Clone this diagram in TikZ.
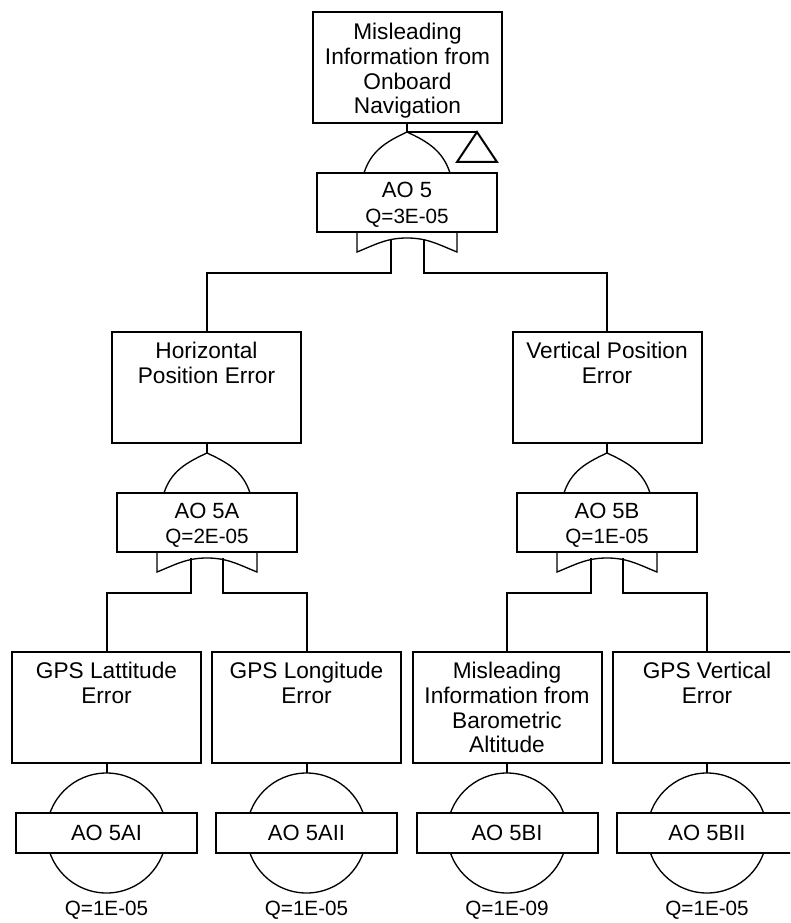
\documentclass[tikz,border=0pt]{standalone}
\usepackage{fontspec}
\setmainfont{Liberation Sans}
\begin{document}
\begin{tikzpicture}[x=0.75pt,y=-0.75pt,
  evbox/.style={draw, line width=1.5pt, minimum width=189*0.75pt, minimum height=111*0.75pt, inner sep=0pt},
  lblbox/.style={draw, fill=white, line width=1.5pt, minimum width=180*0.75pt, minimum height=59*0.75pt, inner sep=0pt, align=center},
  baselbl/.style={draw, fill=white, line width=1.5pt, minimum width=181*0.75pt, minimum height=40*0.75pt, inner sep=0pt},
  evtext/.style={anchor=north, align=center, inner sep=0pt, font=\fontsize{17}{18.5}\selectfont},
  gtext/.style={inner sep=0pt, font=\fontsize{16.5}{18}\selectfont},
  qtext/.style={inner sep=0pt, font=\fontsize{15.5}{18}\selectfont},
  gateline/.style={line width=1pt},
  wire/.style={line width=1.5pt}]
\useasboundingbox (0,0) rectangle (790,923);
\clip (0,0) rectangle (790,923);

% ---------- top event ----------
\node[evbox] (top) at (407.5,67.5) {};
\node[evtext, yshift=-12*0.75pt] (toptxt) at (top.north) {Misleading\\Information from\\Onboard\\Navigation};
\coordinate (g0tip) at (407,132);
\draw[wire] (top.south -| g0tip) -- (g0tip);
% transfer triangle
\coordinate (tr) at (477,132);
\draw[wire] (g0tip) -- (tr);
\draw[wire] (tr) -- (457,162) -- (497,162) -- cycle;
% OR gate
\draw[gateline] (364,173) to[out=72,in=205] (g0tip) to[out=-25,in=108] (450,173);
\draw[gateline] (357,232) -- (357,252) to[out=22,in=180] (407,238) to[out=0,in=158] (457,252) -- (457,232);
\node[lblbox] (g0) at (407,202.5) {};
\node[gtext] (g0a) at (407,190) {AO 5};
\node[qtext] (g0b) at (407,218) {Q=3E-05};

% ---------- second level ----------
\node[evbox] (hpe) at (206.5,387.5) {};
\node[evtext, yshift=-11*0.75pt] (hpetxt) at (hpe.north) {Horizontal\\Position Error};
\node[evbox] (vpe) at (607,387.5) {};
\node[evtext, yshift=-11*0.75pt] (vpetxt) at (vpe.north) {Vertical Position\\Error};

\coordinate (b0l) at (391,273);
\coordinate (b0r) at (424,273);
\draw[wire] (391,239) -- (b0l) -| (hpe.north);
\draw[wire] (424,239) -- (b0r) -| (vpe.north);

% gate A
\coordinate (gatip) at (207,453);
\draw[wire] (hpe.south -| gatip) -- (gatip);
\draw[gateline] (164,493) to[out=72,in=205] (gatip) to[out=-25,in=108] (250,493);
\draw[gateline] (157,552) -- (157,572) to[out=22,in=180] (207,558) to[out=0,in=158] (257,572) -- (257,552);
\node[lblbox] (ga) at (207,522.5) {};
\node[gtext] (gaa) at (207,511) {AO 5A};
\node[qtext] (gab) at (207,538) {Q=2E-05};

% gate B
\coordinate (gbtip) at (607,453);
\draw[wire] (vpe.south -| gbtip) -- (gbtip);
\draw[gateline] (564,493) to[out=72,in=205] (gbtip) to[out=-25,in=108] (650,493);
\draw[gateline] (557,552) -- (557,572) to[out=22,in=180] (607,558) to[out=0,in=158] (657,572) -- (657,552);
\node[lblbox] (gb) at (607,522.5) {};
\node[gtext] (gba) at (607,511) {AO 5B};
\node[qtext] (gbb) at (607,538) {Q=1E-05};

% ---------- basic events ----------
\node[evbox] (e1) at (106.5,707.5) {};
\node[evtext, yshift=-11*0.75pt] (e1t) at (e1.north) {GPS Lattitude\\Error};
\node[evbox] (e2) at (306.5,707.5) {};
\node[evtext, yshift=-11*0.75pt] (e2t) at (e2.north) {GPS Longitude\\Error};
\node[evbox] (e3) at (507,707.5) {};
\node[evtext, yshift=-11*0.75pt] (e3t) at (e3.north) {Misleading\\Information from\\Barometric\\Altitude};
\node[evbox] (e4) at (707,707.5) {};
\node[evtext, yshift=-11*0.75pt] (e4t) at (e4.north) {GPS Vertical\\Error};

\draw[wire] (191,558) -- (191,593) -| (e1.north);
\draw[wire] (223,558) -- (223,593) -| (e2.north);
\draw[wire] (591,558) -- (591,593) -| (e3.north);
\draw[wire] (623,558) -- (623,593) -| (e4.north);

\foreach \n/\cx/\lab/\q in {1/106.5/AO 5AI/Q=1E-05, 2/306.5/AO 5AII/Q=1E-05, 3/507/AO 5BI/Q=1E-09, 4/707/AO 5BII/Q=1E-05}{
  \coordinate (c\n) at (\cx,833);
  \draw[wire] (e\n.south) -- (\cx,773);
  \draw[gateline] (c\n) circle[radius=60*0.75pt];
  \node[baselbl] (l\n) at (c\n) {};
  \node[gtext] (lt\n) at (c\n) {\lab};
  \node[qtext] (q\n) at (\cx,910) {\q};
}
\end{tikzpicture}
\end{document}
